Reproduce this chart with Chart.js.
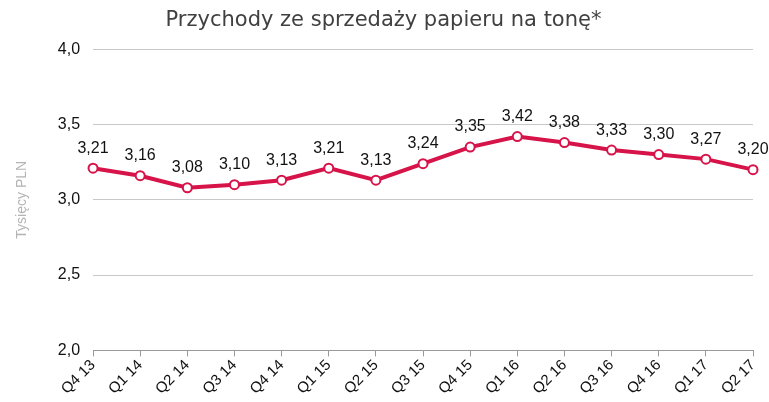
<!DOCTYPE html>
<html lang="pl">
<head>
    <meta charset="UTF-8">
    <title>Przychody ze sprzedaży papieru</title>
    <style>
        html, body { margin: 0; padding: 0; background: #fff; }
        #wrap { width: 769px; height: 402px; }
    </style>
</head>
<body>
    <div id="wrap">
        <canvas id="myChart"></canvas>
    </div>

<script src="https://cdn.jsdelivr.net/npm/chart.js"></script>
<script>
    const kwartaly = ['Q4 13', 'Q1 14', 'Q2 14', 'Q3 14', 'Q4 14', 'Q1 15', 'Q2 15', 'Q3 15',
        'Q4 15', 'Q1 16', 'Q2 16', 'Q3 16', 'Q4 16', 'Q1 17', 'Q2 17'];
    const przychody = [3.21, 3.16, 3.08, 3.10, 3.13, 3.21, 3.13, 3.24, 3.35, 3.42, 3.38, 3.33, 3.30, 3.27, 3.20];
    const osY = [2.0, 2.5, 3.0, 3.5, 4.0];

    const czerwony = 'rgb(214, 20, 74)';

    // etykiety z wartosciami nad punktami
    const etykiety = {
        id: 'etykiety',
        afterDatasetsDraw(chart) {
            const ctx = chart.ctx;
            const meta = chart.getDatasetMeta(0);
            ctx.save();
            ctx.font = '16px "Liberation Sans", Arial, sans-serif';
            ctx.fillStyle = '#111';
            ctx.textAlign = 'center';
            ctx.textBaseline = 'bottom';
            meta.data.forEach(function (p, i) {
                const txt = przychody[i].toFixed(2).replace('.', ',');
                ctx.fillText(txt, p.x, p.y - 12);
            });
            ctx.restore();
        }
    };

    new Chart(document.getElementById('myChart'), {
        type: 'line',
        data: {
            labels: kwartaly,
            datasets: [{
                label: 'Przychody',
                data: przychody,
                borderColor: czerwony,
                borderWidth: 4,
                pointRadius: 4.5,
                pointBorderWidth: 2,
                pointBackgroundColor: '#fff',
                pointBorderColor: czerwony,
                tension: 0
            }]
        },
        options: {
            responsive: true,
            maintainAspectRatio: false,
            animation: false,
            layout: { padding: { left: 14, right: 16, top: 0, bottom: 4 } },
            plugins: {
                legend: { display: false },
                tooltip: { enabled: false },
                title: {
                    display: true,
                    text: 'Przychody ze sprzedaży papieru na tonę*',
                    color: '#404040',
                    font: { family: '"DejaVu Sans", Verdana, sans-serif', size: 21, weight: 'normal' },
                    padding: { top: 8, bottom: 16 }
                }
            },
            scales: {
                x: {
                    offset: false,
                    grid: {
                        display: true,
                        drawOnChartArea: false,
                        drawTicks: true,
                        tickLength: 6,
                        color: '#999'
                    },
                    border: { color: '#999', width: 1 },
                    ticks: {
                        color: '#111',
                        minRotation: 45,
                        maxRotation: 45,
                        padding: 0,
                        font: { family: '"Liberation Sans", Arial, sans-serif', size: 15 }
                    }
                },
                y: {
                    min: 2.0,
                    max: 4.0,
                    afterBuildTicks(axis) {
                        axis.ticks = osY.map(v => ({ value: v }));
                    },
                    grid: { color: '#c8c8c8', drawTicks: false },
                    border: { display: false },
                    ticks: {
                        color: '#111',
                        padding: 13,
                        font: { family: '"Liberation Sans", Arial, sans-serif', size: 16 },
                        callback: v => v.toFixed(1).replace('.', ',')
                    },
                    title: {
                        display: true,
                        text: 'Tysięcy PLN',
                        color: '#b4b4b4',
                        padding: { top: 0, bottom: 14 },
                        font: { family: '"Liberation Sans", Arial, sans-serif', size: 14 }
                    }
                }
            }
        },
        plugins: [etykiety]
    });
</script>
</body>
</html>
